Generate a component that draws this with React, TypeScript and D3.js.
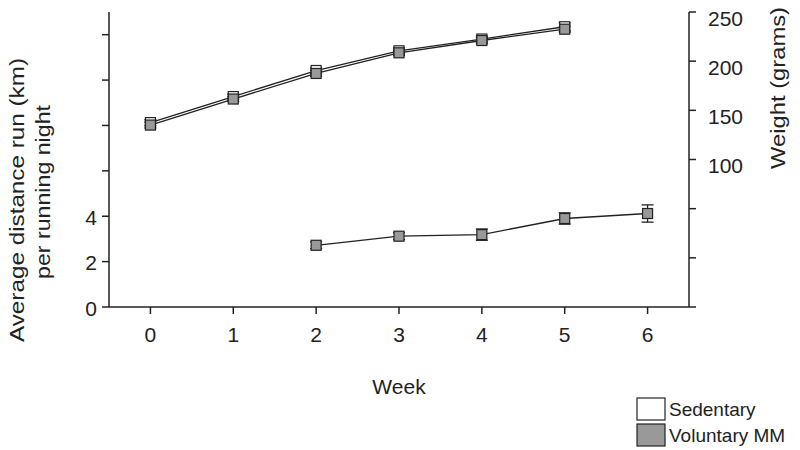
import * as d3 from "d3";

const weeks = [0, 1, 2, 3, 4, 5, 6];
const weightWeeks = [0, 1, 2, 3, 4, 5];
const sedentaryWeight = [137.5, 164, 190.5, 210.5, 222.5, 235];
const sedentaryErr = [3, 2.5, 3, 3, 3, 4];
const voluntaryWeight = [135, 161.5, 187.5, 208.5, 221, 232.5];
const voluntaryErr = [3, 2.5, 3, 2.5, 3, 3];
const runWeeks = [2, 3, 4, 5, 6];
const runDistance = [2.72, 3.12, 3.19, 3.9, 4.12];
const runErr = [0.15, 0.15, 0.25, 0.25, 0.38];
const leftTicks = [0, 2, 4, 6, 8, 10, 12];
const leftLabels = [0, 2, 4];
const rightTicks = [-50, 0, 50, 100, 150, 200, 250];
const rightLabels = [100, 150, 200, 250];

const width = 800;
const height = 450;
const margin = { top: 12, right: 111, bottom: 143, left: 109 };
const font = "Liberation Sans, Arial, sans-serif";

const x = d3.scaleLinear().domain([-0.5, 6.5]).range([margin.left, width - margin.right]);
const yL = d3.scaleLinear().domain([0, 13]).range([height - margin.bottom, margin.top]);
const yR = d3.scaleLinear().domain([-50, 250]).range([height - margin.bottom, margin.top]);

const Series = ({ xs, ys, errs, y, fill }) => {
  const line = d3.line().x((d) => x(d[0])).y((d) => y(d[1]));
  const pts = xs.map((w, i) => [w, ys[i]]);
  return (
    <g>
      <path d={line(pts)} fill="none" stroke="#222" strokeWidth={1.3} />
      {pts.map((p, i) => {
        const cx = x(p[0]);
        const top = y(p[1] + errs[i]);
        const bot = y(p[1] - errs[i]);
        return (
          <g key={i} stroke="#222" strokeWidth={1.3}>
            <line x1={cx} x2={cx} y1={top} y2={bot} />
            <line x1={cx - 6} x2={cx + 6} y1={top} y2={top} />
            <line x1={cx - 6} x2={cx + 6} y1={bot} y2={bot} />
            <rect x={cx - 5} y={y(p[1]) - 5} width={10} height={10} fill={fill} strokeWidth={1.2} />
          </g>
        );
      })}
    </g>
  );
};

export default function App() {
  const bottom = height - margin.bottom;
  const left = margin.left;
  const right = width - margin.right;
  return (
    <svg width={width} height={height} style={{ position: "absolute", left: 0, top: 0 }} fontFamily={font}>
      <rect width={width} height={height} fill="#fff" />
      {/* axes */}
      <g stroke="#222" strokeWidth={1.5}>
        <line x1={left} x2={left} y1={yL(13)} y2={bottom} />
        <line x1={right} x2={right} y1={yR(250)} y2={bottom} />
        <line x1={left} x2={right} y1={bottom} y2={bottom} />
        {leftTicks.map((t) => (
          <line key={"l" + t} x1={left - 7} x2={left} y1={yL(t)} y2={yL(t)} />
        ))}
        {rightTicks.map((t) => (
          <line key={"r" + t} x1={right} x2={right + 7} y1={yR(t)} y2={yR(t)} />
        ))}
        {weeks.map((w) => (
          <line key={"b" + w} x1={x(w)} x2={x(w)} y1={bottom} y2={bottom + 7} />
        ))}
      </g>
      <g fontSize={21} fill="#222">
        {leftLabels.map((t) => (
          <text key={t} x={left - 12} y={yL(t) + 1} dy="0.36em" textAnchor="end">{t}</text>
        ))}
        {rightLabels.map((t) => (
          <text key={t} x={right + 19} y={yR(t) + 6} dy="0.36em">{t}</text>
        ))}
        {weeks.map((w) => (
          <text key={w} x={x(w)} y={bottom + 35} textAnchor="middle">{w}</text>
        ))}
        <text x={x(3)} y={394} textAnchor="middle">Week</text>
        <text transform="translate(24,200) rotate(-90)" textAnchor="middle" textLength={284} lengthAdjust="spacingAndGlyphs">Average distance run (km)</text>
        <text transform="translate(50,192) rotate(-90)" textAnchor="middle" textLength={174} lengthAdjust="spacingAndGlyphs">per running night</text>
        <text transform="translate(785,88) rotate(-90)" textAnchor="middle" textLength={162} lengthAdjust="spacingAndGlyphs">Weight (grams)</text>
      </g>
      <Series xs={weightWeeks} ys={sedentaryWeight} errs={sedentaryErr} y={yR} fill="#fff" />
      <Series xs={weightWeeks} ys={voluntaryWeight} errs={voluntaryErr} y={yR} fill="#999" />
      <Series xs={runWeeks} ys={runDistance} errs={runErr} y={yL} fill="#999" />
      {/* legend */}
      <g fontSize={19} fill="#222">
        <rect x={637} y={398} width={28} height={22} fill="#fff" stroke="#222" strokeWidth={1.2} />
        <text x={669} y={416}>Sedentary</text>
        <rect x={637} y={424} width={28} height={22} fill="#999" stroke="#222" strokeWidth={1.2} />
        <text x={669} y={442}>Voluntary MM</text>
      </g>
    </svg>
  );
}
